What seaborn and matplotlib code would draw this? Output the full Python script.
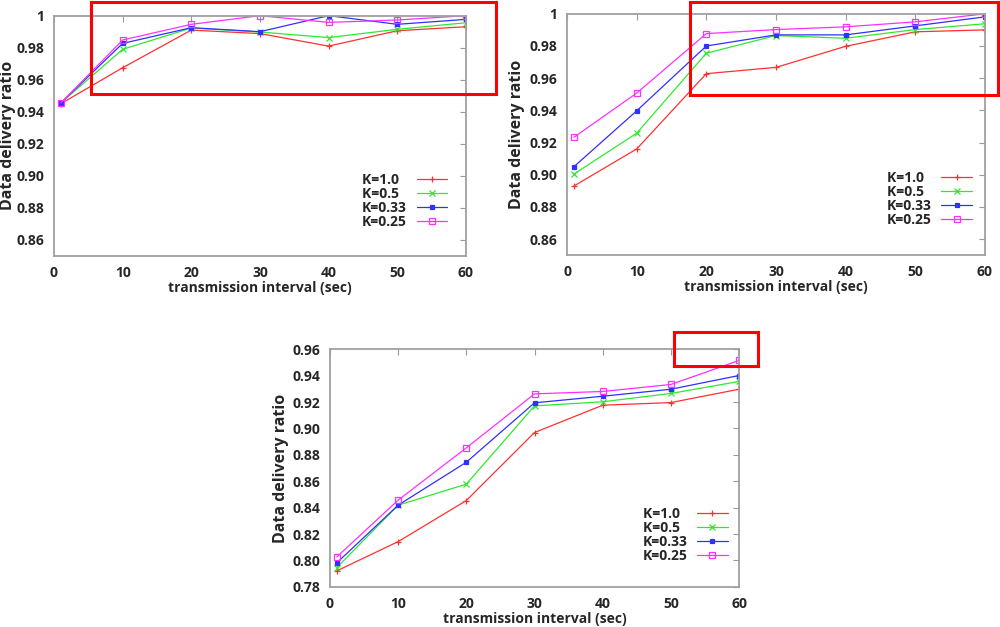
import matplotlib.pyplot as plt
import matplotlib.patches as patches
import matplotlib.ticker as mticker
import pandas as pd
import seaborn as sns

sns.set_style("white")
plt.rcParams["font.family"] = ["Open Sans", "DejaVu Sans"]
plt.rcParams["font.weight"] = "bold"

# x values (transmission interval, sec)
intervals = [1, 10, 20, 30, 40, 50, 60]
# figure space keeps legend text left aligned
k_labels = ["K=1.0\u2007", "K=0.5\u2007", "K=0.33", "K=0.25"]

# top left panel
a_k100 = [0.945, 0.9675, 0.991, 0.9888, 0.981, 0.9906, 0.9931]
a_k050 = [0.9455, 0.979, 0.9923, 0.9898, 0.9863, 0.9915, 0.9956]
a_k033 = [0.9455, 0.9827, 0.9925, 0.990, 1.000, 0.9946, 0.9977]
a_k025 = [0.9455, 0.9848, 0.9946, 1.000, 0.9958, 0.9973, 1.000]

# top right panel
b_k100 = [0.893, 0.916, 0.9628, 0.9667, 0.9798, 0.9888, 0.990]
b_k050 = [0.9004, 0.9258, 0.9755, 0.9865, 0.9848, 0.9902, 0.9938]
b_k033 = [0.905, 0.9397, 0.980, 0.9869, 0.9869, 0.9925, 0.9981]
b_k025 = [0.9233, 0.9507, 0.9877, 0.9902, 0.9919, 0.995, 1.000]

# bottom panel
c_k100 = [0.7921, 0.8143, 0.8454, 0.8969, 0.9176, 0.9196, 0.9297]
c_k050 = [0.7946, 0.8419, 0.8578, 0.9171, 0.9202, 0.9265, 0.9356]
c_k033 = [0.7982, 0.8419, 0.8744, 0.9194, 0.9244, 0.9297, 0.9401]
c_k025 = [0.8027, 0.8457, 0.8853, 0.9262, 0.928, 0.9333, 0.9515]

colors = ["#ff3030", "#30e830", "#3030ff", "#ff30ff"]
markers = ["+", "x", "s", "s"]
msizes = [5, 4.5, 3.5, 5]
faces = ["#ff3030", "#30e830", "#3030ff", "none"]


def make_df(series):
    rows = []
    for lab, vals in zip(k_labels, series):
        for x, v in zip(intervals, vals):
            rows.append({"interval": x, "ratio": v, "K": lab})
    return pd.DataFrame(rows)


def draw_panel(ax, df, ylim, yticks, leg_anchor, ylab_x):
    for i, lab in enumerate(k_labels):
        sub = df[df["K"] == lab]
        sns.lineplot(data=sub, x="interval", y="ratio", color=colors[i],
                     linewidth=0.9, label=lab, ax=ax, marker=markers[i],
                     markersize=msizes[i], markeredgewidth=0.9,
                     markeredgecolor=colors[i], markerfacecolor=faces[i])
    ax.set_xlim(0, 60)
    ax.set_ylim(*ylim)
    ax.set_xticks([0, 10, 20, 30, 40, 50, 60])
    ax.set_yticks(yticks)
    ax.yaxis.set_major_formatter(
        mticker.FuncFormatter(lambda v, p: "1" if abs(v - 1) < 1e-9 else f"{v:.2f}"))
    ax.tick_params(direction="in", length=4, width=0.8, color="#999999",
                   top=True, right=True, labelsize=10, pad=7)
    for lbl in ax.get_xticklabels() + ax.get_yticklabels():
        lbl.set_fontweight("bold")
    for sp in ax.spines.values():
        sp.set_color("#a0a0a0")
        sp.set_linewidth(1.3)
    ax.set_xlabel("transmission interval (sec)", fontsize=10, fontweight="bold", labelpad=1)
    ax.set_ylabel("Data delivery ratio", fontsize=11.5, fontweight="bold")
    ax.yaxis.set_label_coords(ylab_x, 0.5)
    leg = ax.legend(loc="upper left", bbox_to_anchor=leg_anchor, frameon=False,
                    markerfirst=False, fontsize=10, labelspacing=0.0,
                    handlelength=2.2, handletextpad=0.7, borderpad=0,
                    borderaxespad=0)
    for t in leg.get_texts():
        t.set_fontweight("bold")


fig = plt.figure(figsize=(10, 6.27), dpi=100)
ax1 = fig.add_axes([0.054, 0.592, 0.412, 0.383])
ax2 = fig.add_axes([0.567, 0.593, 0.418, 0.385])
ax3 = fig.add_axes([0.330, 0.064, 0.409, 0.379])

top_ticks = [0.86, 0.88, 0.90, 0.92, 0.94, 0.96, 0.98, 1.00]
bot_ticks = [0.78, 0.80, 0.82, 0.84, 0.86, 0.88, 0.90, 0.92, 0.94, 0.96]

draw_panel(ax1, make_df([a_k100, a_k050, a_k033, a_k025]), (0.85, 1.0), top_ticks,
           (0.748, 0.345), -0.092)
draw_panel(ax2, make_df([b_k100, b_k050, b_k033, b_k025]), (0.85, 1.0), top_ticks,
           (0.765, 0.35), -0.100)
draw_panel(ax3, make_df([c_k100, c_k050, c_k033, c_k025]), (0.78, 0.96), bot_ticks,
           (0.764, 0.335), -0.100)

# red highlight boxes
for (x0, y0, w, h) in [(0.091, 0.850, 0.405, 0.147),
                       (0.690, 0.8485, 0.308, 0.148),
                       (0.674, 0.4163, 0.084, 0.0542)]:
    fig.patches.append(patches.Rectangle((x0, y0), w, h, transform=fig.transFigure,
                                         fill=False, edgecolor="#ff0000", linewidth=2.2))

fig.savefig("out.png", dpi=100)
